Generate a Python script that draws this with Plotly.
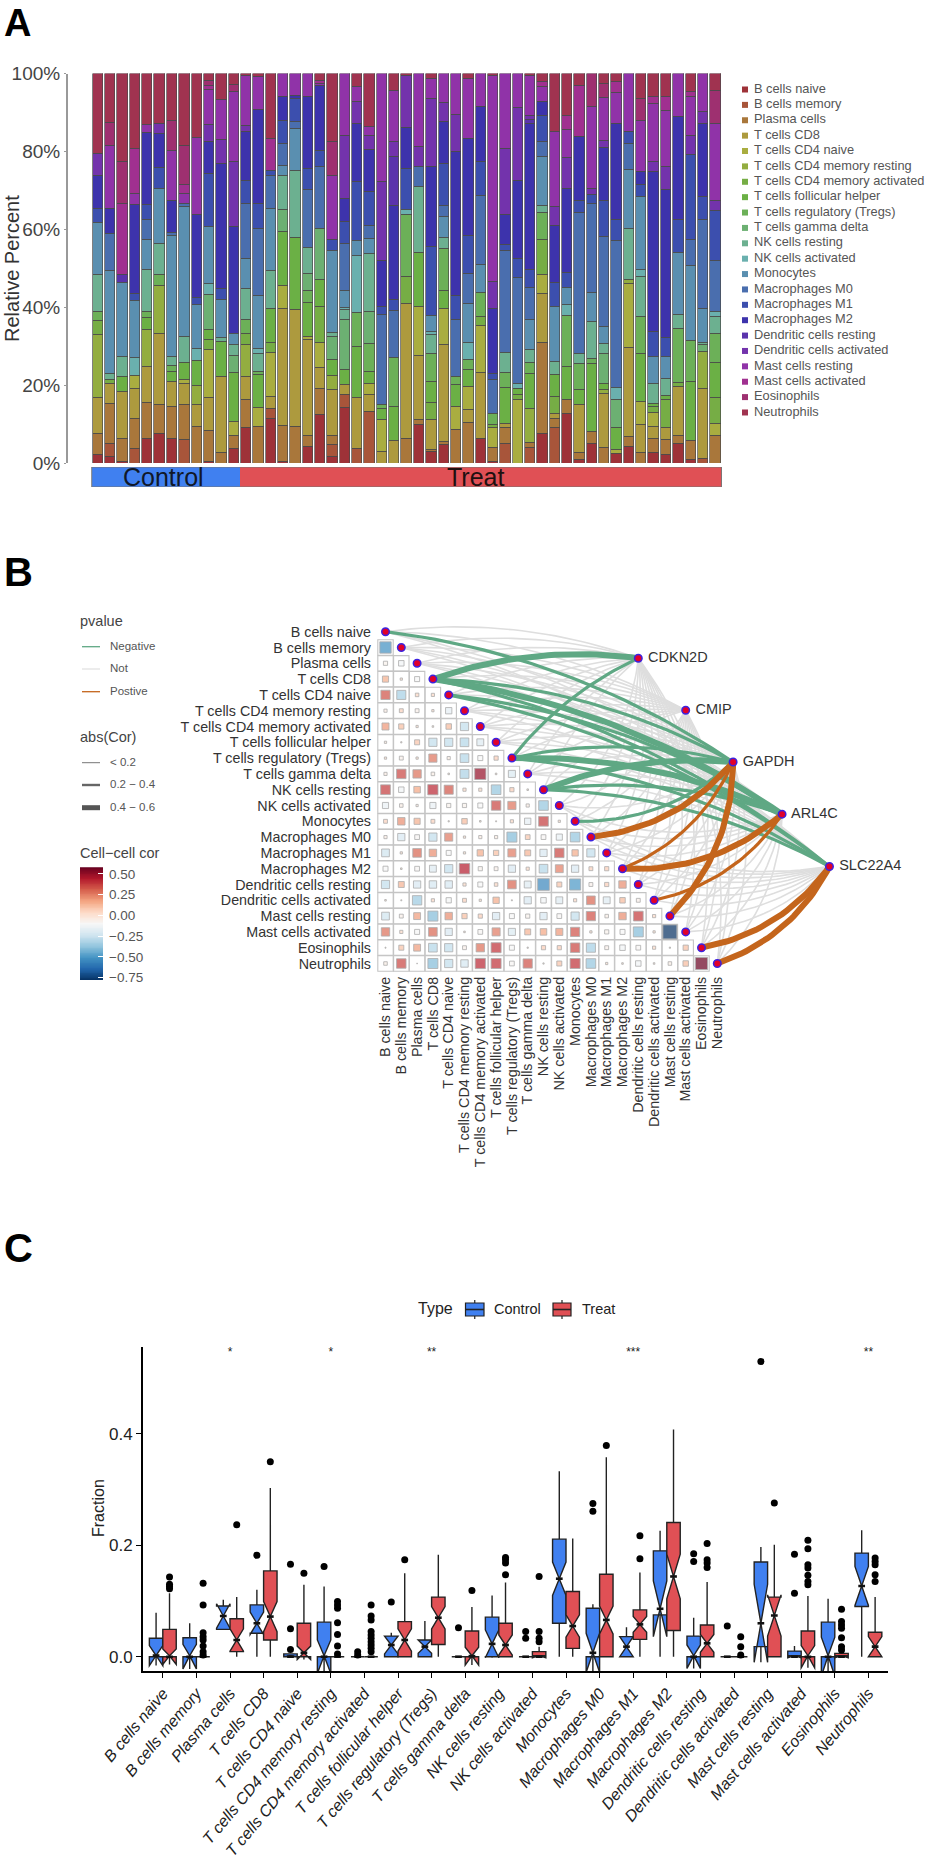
import math
import plotly.graph_objects as go

W, H = 931, 1860

cell_types = ["B cells naive", "B cells memory", "Plasma cells", "T cells CD8", "T cells CD4 naive",
              "T cells CD4 memory resting", "T cells CD4 memory activated", "T cells follicular helper",
              "T cells regulatory (Tregs)", "T cells gamma delta", "NK cells resting", "NK cells activated",
              "Monocytes", "Macrophages M0", "Macrophages M1", "Macrophages M2", "Dendritic cells resting",
              "Dendritic cells activated", "Mast cells resting", "Mast cells activated", "Eosinophils", "Neutrophils"]
stack_colors = ["#9e3238", "#a8553a", "#a9773b", "#ad9a3e", "#a9ad40", "#93ad40", "#76ad45", "#6bb045",
                "#6cb058", "#6cb072", "#6cb090", "#6ab0ae", "#5a8fb0", "#4a6eae", "#3c4fae", "#3d33ac",
                "#5a33ac", "#7333ac", "#9033a8", "#a03090", "#9e3070", "#a03350"]

# Panel A: each sample is (cell type index, cumulative percent at the top of that layer)
sample_01 = [(0,2.1),(2,7.7),(3,16.7),(5,32.9),(6,36.6),(8,38.9),(10,48.3),(12,61.8),(14,65.4),(15,73.9),(17,79.5),(21,100)]
sample_02 = [(0,1.7),(1,5.1),(2,15.2),(3,20.5),(6,21.5),(10,23.1),(12,49.3),(13,58.8),(15,65.4),(18,81.6),(20,87.4),(21,100)]
sample_03 = [(0,0.4),(2,6.4),(3,18.4),(7,22.2),(10,27.4),(12,46.4),(16,48.3),(19,66.7),(20,77.4),(21,100)]
sample_04 = [(1,3.7),(2,11.3),(3,19.2),(4,22.4),(11,27.1),(12,41.7),(14,43.6),(15,66.4),(18,69.2),(19,80.8),(21,100)]
sample_05 = [(0,6.4),(2,15.6),(3,24.8),(5,34.4),(7,37.4),(8,38.9),(10,49.7),(12,57.4),(13,62.4),(14,66.4),(15,84.8),(18,87.0),(21,100)]
sample_06 = [(0,7.7),(2,15.1),(3,33.2),(5,45.6),(8,48.5),(10,56.4),(12,70.5),(14,75.9),(15,84.6),(17,87.2),(21,100)]
sample_07 = [(0,6.2),(2,14.5),(3,20.9),(7,23.5),(8,25.0),(10,27.4),(12,58.4),(13,59.2),(15,67.4),(18,80.2),(20,87.9),(21,100)]
sample_08 = [(1,6.0),(2,15.0),(3,20.5),(4,21.5),(7,25.8),(10,32.6),(12,65.8),(13,66.7),(18,69.2),(19,71.4),(20,81.6),(21,100)]
sample_09 = [(2,9.4),(3,15.0),(5,19.9),(7,26.2),(11,29.5),(12,40.6),(14,42.5),(15,63.7),(18,83.5),(21,100)]
sample_10 = [(0,0.4),(2,8.4),(3,16.9),(4,29.1),(6,31.8),(7,34.4),(9,43.2),(11,46.2),(12,60.7),(14,74.2),(15,82.6),(17,86.8),(18,96.0),(19,96.8),(20,98.3),(21,100)]
sample_11 = [(2,2.7),(3,22.2),(7,31.2),(10,32.1),(12,42.1),(14,44.9),(15,76.9),(17,83.1),(18,93.3),(21,100)]
sample_12 = [(0,3.7),(2,7.0),(4,10.7),(7,23.2),(9,27.5),(10,30.3),(12,33.3),(15,60.7),(17,77.4),(18,95.5),(20,97.3),(21,100)]
sample_13 = [(0,9.0),(2,16.2),(3,22.2),(5,30.3),(6,33.2),(8,36.8),(10,44.9),(12,52.4),(13,66.5),(14,72.5),(15,85.0),(17,86.6),(18,99.6),(21,100)]
sample_14 = [(2,9.4),(4,14.3),(7,22.6),(8,23.5),(10,28.2),(11,29.5),(12,42.9),(13,60.3),(14,66.7),(15,90.8),(18,99.3),(21,100)]
sample_15 = [(0,11.3),(1,14.1),(3,17.1),(4,28.4),(6,31.0),(7,39.7),(10,49.4),(12,65.4),(13,73.8),(14,75.0),(19,83.3),(21,100)]
sample_16 = [(0,0.4),(2,9.7),(3,39.7),(4,45.5),(7,59.4),(9,65.0),(10,73.9),(12,76.5),(13,82.1),(14,88.0),(15,94.0),(18,100)]
sample_17 = [(2,9.4),(3,39.5),(7,57.9),(10,75.2),(12,85.9),(13,87.6),(14,93.6),(15,94.4),(18,100)]
sample_18 = [(0,4.3),(2,7.0),(3,31.6),(4,32.6),(7,41.3),(8,44.2),(9,48.7),(10,55.4),(13,70.3),(14,75.6),(15,94.0),(18,100)]
sample_19 = [(0,12.4),(2,19.2),(3,24.4),(4,30.9),(6,40.2),(7,47.0),(9,60.3),(13,76.1),(14,80.2),(15,96.8),(18,97.5),(19,98.3),(21,100)]
sample_20 = [(0,1.7),(1,4.7),(2,7.0),(3,18.8),(5,22.4),(7,26.5),(9,32.5),(10,33.5),(12,54.5),(14,57.3),(18,73.9),(20,82.5),(21,100)]
sample_21 = [(0,14.3),(1,17.5),(3,20.1),(7,23.9),(9,36.8),(10,39.3),(11,40.0),(12,44.4),(13,56.4),(14,62.0),(15,68.0),(17,84.0),(18,100)]
sample_22 = [(1,3.8),(3,16.9),(7,29.9),(8,38.7),(11,53.2),(12,57.0),(14,72.4),(15,87.2),(17,92.7),(18,96.6),(21,100)]
sample_23 = [(1,13.2),(3,17.5),(4,20.5),(7,23.5),(8,30.8),(9,38.9),(10,53.8),(12,57.7),(13,61.1),(14,69.7),(15,80.5),(17,84.2),(18,86.3),(21,100)]
sample_24 = [(3,3.0),(4,11.1),(7,14.1),(8,15.0),(13,38.0),(14,40.2),(15,52.1),(17,72.4),(18,100)]
sample_25 = [(3,5.7),(7,14.5),(8,27.1),(13,39.1),(14,41.9),(15,66.0),(16,78.8),(17,82.6),(18,95.6),(21,100)]
sample_26 = [(2,6.4),(3,41.0),(6,48.0),(8,63.9),(11,65.0),(14,75.6),(15,86.1),(17,99.6),(21,100)]
sample_27 = [(0,10.0),(2,11.1),(3,27.5),(4,40.3),(7,54.0),(10,71.1),(13,76.1),(17,81.2),(18,100)]
sample_28 = [(0,3.0),(2,3.4),(3,11.1),(6,15.6),(7,20.9),(8,28.2),(10,32.9),(11,33.8),(12,37.8),(14,55.6),(15,76.2),(17,93.6),(18,98.7),(21,100)]
sample_29 = [(0,4.7),(2,5.6),(3,30.3),(4,39.7),(7,44.4),(8,55.1),(10,57.9),(12,63.4),(13,66.2),(14,76.9),(15,87.6),(17,92.5),(18,100)]
sample_30 = [(2,8.7),(4,14.5),(7,20.1),(8,22.2),(13,36.8),(14,42.9),(15,79.9),(17,89.6),(18,100)]
sample_31 = [(2,10.5),(3,13.8),(4,19.7),(7,23.9),(8,26.5),(11,31.0),(12,41.0),(13,48.7),(14,58.5),(15,83.3),(18,98.7),(21,100)]
sample_32 = [(0,6.2),(3,23.2),(4,35.3),(6,37.6),(8,43.8),(12,50.9),(13,68.8),(14,77.4),(15,91.6),(18,100)]
sample_33 = [(0,0.4),(2,4.1),(4,9.0),(6,9.9),(8,12.6),(13,21.4),(14,23.1),(15,39.7),(17,46.6),(18,99.6),(21,100)]
sample_34 = [(1,5.0),(2,9.0),(3,10.1),(7,19.5),(8,23.2),(10,28.4),(13,54.5),(14,56.0),(15,63.7),(17,80.8),(18,100)]
sample_35 = [(4,16.4),(6,17.5),(7,19.2),(11,20.3),(13,47.6),(14,52.6),(15,72.6),(17,91.2),(18,100)]
sample_36 = [(1,4.1),(2,5.3),(5,14.1),(7,23.1),(8,25.8),(10,29.2),(12,36.8),(13,45.1),(14,49.7),(15,87.2),(16,88.3),(17,89.1),(18,99.6),(21,100)]
sample_37 = [(0,7.5),(2,30.9),(3,43.6),(4,48.5),(6,57.4),(8,64.3),(10,66.2),(12,78.6),(13,82.5),(14,89.1),(15,92.7),(18,96.6),(19,97.9),(21,100)]
sample_38 = [(1,9.0),(2,11.5),(3,12.8),(6,17.1),(7,22.6),(10,26.1),(12,40.3),(14,46.3),(15,61.1),(17,65.8),(18,85.0),(21,100)]
sample_39 = [(0,12.8),(2,16.2),(7,24.8),(8,37.8),(11,40.8),(12,45.1),(14,48.9),(15,70.5),(17,78.4),(18,85.5),(19,89.1),(21,100)]
sample_40 = [(0,0.9),(2,2.6),(3,15.0),(7,18.8),(8,25.6),(10,28.2),(13,64.3),(14,67.4),(15,83.9),(19,96.8),(21,100)]
sample_41 = [(0,5.0),(2,8.1),(7,25.5),(8,26.9),(10,36.3),(12,43.8),(13,66.7),(14,69.0),(17,70.5),(18,91.5),(20,100)]
sample_42 = [(2,4.1),(3,17.8),(5,18.8),(7,20.3),(9,28.2),(10,30.8),(12,35.0),(13,58.1),(14,67.3),(15,81.0),(17,82.9),(18,93.8),(20,97.4),(21,100)]
sample_43 = [(0,2.4),(4,3.4),(7,9.0),(9,16.4),(11,19.4),(13,57.1),(14,62.4),(15,87.2),(18,95.1),(19,97.9),(21,100)]
sample_44 = [(0,4.3),(2,6.7),(3,29.7),(4,46.0),(5,47.0),(10,60.1),(12,75.4),(13,82.1),(14,85.2),(18,100)]
sample_45 = [(2,2.7),(3,9.8),(4,15.8),(7,28.0),(8,37.6),(10,47.9),(11,49.7),(12,68.5),(14,71.6),(15,74.8),(18,88.0),(20,93.6),(21,100)]
sample_46 = [(0,2.6),(2,6.2),(3,9.4),(4,13.0),(6,14.5),(7,15.4),(10,20.5),(12,27.4),(14,33.8),(15,74.8),(17,77.4),(18,92.3),(19,94.0),(21,100)]
sample_47 = [(0,2.1),(2,6.0),(3,9.1),(6,16.4),(7,17.3),(10,21.8),(12,27.4),(14,32.3),(15,70.1),(17,76.1),(18,90.6),(19,94.0),(21,100)]
sample_48 = [(0,5.0),(2,7.1),(3,19.7),(6,20.7),(8,34.6),(10,38.0),(12,54.0),(14,62.4),(15,88.9),(18,100)]
sample_49 = [(0,0.9),(2,5.8),(7,20.9),(8,31.4),(12,50.6),(13,57.4),(14,79.2),(17,84.2),(18,94.0),(19,95.3),(21,100)]
sample_50 = [(1,1.1),(3,19.2),(5,28.6),(9,30.3),(10,30.9),(12,39.7),(13,62.4),(14,68.4),(15,87.2),(17,90.2),(18,100)]
sample_51 = [(2,7.0),(4,10.1),(6,16.7),(7,25.8),(8,33.2),(10,37.6),(11,38.9),(13,52.1),(14,64.8),(17,67.3),(18,87.2),(20,95.7),(21,100)]
samples = [sample_01, sample_02, sample_03, sample_04, sample_05, sample_06, sample_07, sample_08, sample_09, sample_10,
           sample_11, sample_12, sample_13, sample_14, sample_15, sample_16, sample_17, sample_18, sample_19, sample_20,
           sample_21, sample_22, sample_23, sample_24, sample_25, sample_26, sample_27, sample_28, sample_29, sample_30,
           sample_31, sample_32, sample_33, sample_34, sample_35, sample_36, sample_37, sample_38, sample_39, sample_40,
           sample_41, sample_42, sample_43, sample_44, sample_45, sample_46, sample_47, sample_48, sample_49, sample_50, sample_51]
sample_groups = ["Control"] * 12 + ["Treat"] * 39

# Panel B: lower-triangle cell-cell correlations, row by row
cor_01 = [-0.52]
cor_02 = [-0.07, -0.12]
cor_03 = [0.15, 0.02, -0.10]
cor_04 = [0.34, -0.33, 0.05, 0.04]
cor_05 = [-0.04, 0.06, -0.06, 0.02, -0.16]
cor_06 = [0.20, 0.11, 0.02, 0.01, 0.12, -0.27]
cor_07 = [-0.02, 0.006, 0.10, -0.27, -0.27, -0.30, -0.19]
cor_08 = [0.02, -0.06, 0.02, 0.27, -0.04, -0.30, -0.10, 0.07]
cor_09 = [-0.04, 0.36, 0.28, -0.05, 0.01, -0.32, 0.50, 0.01, -0.20]
cor_10 = [0.38, -0.12, 0.17, 0.42, 0.33, 0.04, 0.04, -0.37, 0.07, 0.01]
cor_11 = [-0.15, -0.05, -0.02, -0.15, -0.07, -0.07, -0.10, 0.36, 0.27, -0.04, -0.37]
cor_12 = [0.06, 0.22, 0.15, 0.06, 0.006, 0.12, 0.01, 0.004, 0.04, -0.16, 0.38, 0.02]
cor_13 = [-0.04, -0.21, -0.09, -0.27, 0.26, 0.02, -0.04, -0.04, -0.40, 0.09, -0.09, -0.15, -0.37]
cor_14 = [-0.24, 0.02, 0.30, 0.22, -0.10, 0.02, 0.16, 0.11, 0.26, 0.14, -0.21, 0.36, 0.16, -0.27]
cor_15 = [-0.10, 0.01, -0.09, -0.19, -0.27, 0.44, -0.07, -0.06, -0.21, 0.04, -0.30, 0.25, -0.21, 0.06, 0.07]
cor_16 = [-0.27, 0.14, -0.21, -0.22, -0.22, 0.04, -0.10, 0.05, 0.30, -0.19, -0.55, 0.10, -0.50, -0.06, 0.07, 0.22]
cor_17 = [0.01, 0.004, -0.35, 0.04, -0.11, 0.06, 0.02, 0.16, 0.004, -0.21, -0.12, -0.19, 0.04, 0.30, -0.19, 0.12, -0.06]
cor_18 = [-0.24, -0.06, 0.19, -0.40, 0.22, 0.11, 0.07, -0.21, -0.10, -0.07, -0.21, -0.09, -0.27, 0.34, -0.05, 0.22, 0.38, 0.04]
cor_19 = [0.28, 0.04, -0.10, 0.30, -0.21, 0.01, -0.09, 0.26, -0.20, 0.14, 0.17, 0.20, 0.34, 0.02, -0.07, -0.10, -0.40, 0.02, -0.78]
cor_20 = [0.004, 0.10, 0.19, -0.30, -0.27, -0.06, 0.28, 0.40, -0.10, 0.006, 0.07, 0.07, 0.36, -0.33, -0.06, -0.12, -0.09, 0.04, 0.006, 0.11]
cor_21 = [-0.05, 0.36, 0.002, -0.40, -0.27, -0.22, 0.42, 0.40, -0.09, 0.34, 0.006, 0.10, 0.40, -0.37, 0.02, 0.01, -0.12, 0.01, -0.05, 0.12, 0.58]
cor_rows = [cor_01, cor_02, cor_03, cor_04, cor_05, cor_06, cor_07, cor_08, cor_09, cor_10, cor_11,
            cor_12, cor_13, cor_14, cor_15, cor_16, cor_17, cor_18, cor_19, cor_20, cor_21]

genes = ["CDKN2D", "CMIP", "GAPDH", "ARL4C", "SLC22A4"]
gene_col = [16.0, 19.0, 22.0, 25.1, 28.1]
gene_row = [1.68, 4.97, 8.25, 11.55, 14.86]
negative_links = [("B cells naive", "GAPDH", 0.3), ("T cells CD8", "CDKN2D", 0.5), ("T cells CD8", "GAPDH", 0.3),
                  ("T cells CD8", "ARL4C", 0.45), ("T cells CD8", "SLC22A4", 0.3), ("T cells CD4 naive", "ARL4C", 0.3),
                  ("T cells CD4 naive", "SLC22A4", 0.35), ("T cells regulatory (Tregs)", "CDKN2D", 0.3),
                  ("T cells regulatory (Tregs)", "GAPDH", 0.3), ("T cells regulatory (Tregs)", "ARL4C", 0.45),
                  ("T cells regulatory (Tregs)", "SLC22A4", 0.35), ("NK cells resting", "GAPDH", 0.5),
                  ("NK cells resting", "ARL4C", 0.3), ("NK cells resting", "SLC22A4", 0.3), ("Monocytes", "GAPDH", 0.3)]
positive_links = [("Macrophages M0", "GAPDH", 0.5), ("Macrophages M2", "GAPDH", 0.3), ("Macrophages M2", "ARL4C", 0.5),
                  ("Dendritic cells activated", "ARL4C", 0.3), ("Mast cells resting", "GAPDH", 0.5),
                  ("Eosinophils", "SLC22A4", 0.5), ("Neutrophils", "SLC22A4", 0.5)]

# Panel C: box statistics for each cell type
c_q1 = [0, 0, .049, .042, 0, 0, 0, 0, 0, 0, 0, 0, .06, 0, 0, .075, 0, 0, .018, 0, 0, .09]
c_med = [.002, 0, .073, .06, 0, 0, 0, .021, .018, 0, .023, 0, .14, .007, .018, .086, 0, 0, .06, 0, 0, .127]
c_q3 = [.033, .034, .091, .093, .005, .062, 0, .037, .03, 0, .071, 0, .211, .087, .036, .19, .037, 0, .17, .01, .062, .186]
c_lo = [0, 0, .049, 0, 0, 0, 0, 0, 0, 0, 0, 0, 0, 0, 0, 0, 0, 0, 0, 0, 0, 0]
c_hi = [.079, .06, .102, .12, .005, .126, 0, .043, .064, 0, .11, 0, .333, .094, .053, .226, .07, 0, .197, .019, .104, .227]
c_notch = [.018, .022, .022, .02, 0, .03, 0, .016, .012, 0, .025, 0, .03, .035, .018, .05, .021, 0, .07, .002, .035, .035]
t_q1 = [0, 0, .009, .03, 0, 0, 0, 0, .022, 0, 0, 0, .015, 0, .031, .047, 0, 0, 0, 0, 0, 0]
t_med = [0, 0, .03, .072, .007, 0, 0, .03, .07, .001, .021, 0, .055, .066, .058, .144, .024, 0, .074, 0, 0, .018]
t_q3 = [.049, 0, .068, .154, .06, 0, 0, .063, .107, .046, .06, .009, .117, .148, .084, .241, .057, 0, .107, .046, .006, .044]
t_lo = [0, 0, 0, 0, 0, 0, 0, 0, 0, 0, 0, 0, 0, 0, 0, 0, 0, 0, 0, 0, 0, 0]
t_hi = [.114, 0, .107, .303, .129, 0, 0, .15, .183, .089, .133, .018, .212, .358, .151, .408, .134, 0, .201, .109, .006, .107]
t_notch = [.014, 0, .02, .027, .012, 0, 0, .02, .02, .016, .018, .002, .02, .025, .014, .04, .016, 0, .037, .02, .002, .018]
control_outliers = {3: [.182], 4: [.166, .05, .013], 5: [.162], 6: [.009, .003], 7: [.098], 9: [.052],
                    11: [.045, .033], 13: [.275, .261], 16: [.185, .171], 17: [.055], 18: [.53], 19: [.184, .114]}
treat_outliers = {0: [.143, .13, .126, .122], 1: [.132, .093, .043, .036, .03, .019, .009, .003], 2: [.237], 3: [.35],
                  4: [.15], 5: [.099, .093, .087, .061, .04, .019, .005],
                  6: [.093, .073, .066, .045, .039, .033, .027, .021, .015, .009], 7: [.174], 9: [.119],
                  10: [.178, .174, .168, .147], 11: [.144, .045, .033, .027], 13: [.379], 14: [.217, .176],
                  16: [.203, .174, .168, .16], 17: [.036, .018, .003], 18: [.276],
                  19: [.209, .194, .165, .159, .146, .135, .129], 20: [.085, .063, .057, .051, .034, .018, .012],
                  21: [.177, .171, .165, .147, .135]}
significance = {2: "*", 5: "*", 8: "**", 14: "***", 21: "**"}

FONT = "Liberation Sans"
CONTROL = "#4080f0"
TREAT = "#e05055"


def dx(a, b):
    return [a / W, b / W]


def dy(top, bottom):
    return [1 - bottom / H, 1 - top / H]


fig = go.Figure()

# ---- Panel A ----
n_samples = len(samples)
for k, name in enumerate(cell_types):
    vals = [None] * n_samples
    for s, layers in enumerate(samples):
        prev = 0
        for idx, top in layers:
            if idx == k:
                vals[s] = (vals[s] or 0) + (top - prev)
            prev = top
    fig.add_trace(go.Bar(x=list(range(1, n_samples + 1)), y=vals, name=name, width=0.84,
                         marker=dict(color=stack_colors[k], line=dict(color="#4a4a4a", width=0.7)),
                         xaxis="x", yaxis="y", showlegend=False))
fig.add_trace(go.Bar(x=list(range(1, n_samples + 1)), y=[1] * n_samples, width=1.0,
                     marker=dict(color=[CONTROL if g == "Control" else TREAT for g in sample_groups], line=dict(width=0)),
                     xaxis="x", yaxis="y2", showlegend=False, name="Group"))

# ---- Panel B ----
unit = 15.8
link_x, link_y = [], []
row_of = {c: i for i, c in enumerate(cell_types)}


def curve(cell, g):
    r = row_of[cell]
    x0, y0 = r, r
    x1, y1 = gene_col[g], gene_row[g]
    ddx, ddy = x1 - x0, y1 - y0
    sign = 1 if r <= 10 else -1
    k = 0.12 if r <= 10 else 0.2
    cx = (x0 + x1) / 2 + sign * ddy * k
    cy = (y0 + y1) / 2 - sign * ddx * k
    xs, ys = [], []
    for i in range(31):
        t = i / 30
        xs.append((1 - t) ** 2 * x0 + 2 * t * (1 - t) * cx + t ** 2 * x1)
        ys.append((1 - t) ** 2 * y0 + 2 * t * (1 - t) * cy + t ** 2 * y1)
    return xs, ys


coloured = {(c, g) for c, g, _ in negative_links + positive_links}
for cell in cell_types:
    for g, gene in enumerate(genes):
        if (cell, gene) not in coloured:
            xs, ys = curve(cell, g)
            link_x += xs + [None]
            link_y += ys + [None]
fig.add_trace(go.Scatter(x=link_x, y=link_y, mode="lines", line=dict(color="#dedede", width=1.6),
                         xaxis="x3", yaxis="y3", showlegend=False, name="Not"))


def link_width(v):
    return 1.6 if v < 0.2 else (3.2 if v < 0.4 else 6.0)


for links, col in ((negative_links, "#5fa884"), (positive_links, "#c4651c")):
    for cell, gene, v in links:
        xs, ys = curve(cell, genes.index(gene))
        fig.add_trace(go.Scatter(x=xs, y=ys, mode="lines", line=dict(color=col, width=link_width(v)),
                                 xaxis="x3", yaxis="y3", showlegend=False, name=gene))

cell_x, cell_y, cell_v = [], [], []
for i, row in enumerate(cor_rows, start=1):
    for j, v in enumerate(row):
        cell_x.append(j)
        cell_y.append(i)
        cell_v.append(v)
fig.add_trace(go.Scatter(x=cell_x, y=cell_y, mode="markers", xaxis="x3", yaxis="y3", showlegend=False,
                         marker=dict(symbol="square", size=unit - 0.4, color="white", line=dict(color="#c4c4c4", width=1.1))))
rdbu = ["#053061", "#2166ac", "#4393c3", "#92c5de", "#d1e5f0", "#f7f7f7", "#fddbc7", "#f4a582", "#d6604d", "#b2182b", "#67001f"]
rdbu_scale = [[i / 10, c] for i, c in enumerate(rdbu)]
fig.add_trace(go.Scatter(x=cell_x, y=cell_y, mode="markers", xaxis="x3", yaxis="y3", showlegend=False,
                         marker=dict(symbol="square", size=[unit * math.sqrt(abs(v)) for v in cell_v], color=cell_v,
                                     cmin=-0.78, cmax=0.58, colorscale=rdbu_scale, showscale=False,
                                     line=dict(color="#8c8c8c", width=0.8))))
node_marker = dict(symbol="circle", size=7.5, color="#e0002a", line=dict(color="#3b22e0", width=1.5))
fig.add_trace(go.Scatter(x=list(range(22)), y=list(range(22)), mode="markers", marker=node_marker,
                         xaxis="x3", yaxis="y3", showlegend=False, name="Cells"))
fig.add_trace(go.Scatter(x=gene_col, y=gene_row, mode="markers+text", text=[" " + g for g in genes], textposition="middle right",
                         textfont=dict(family=FONT, size=14.5, color="#333333"), marker=node_marker,
                         xaxis="x3", yaxis="y3", showlegend=False, name="Genes"))

# colour key of panel B, a one-column heatmap on its own axis
ramp_levels = [-0.78 + 0.01 * i for i in range(137)]
fig.add_trace(go.Heatmap(z=[[v] for v in ramp_levels], y=ramp_levels, x=[0], zmin=-0.78, zmax=0.58, colorscale=rdbu_scale,
                         showscale=False, xaxis="x6", yaxis="y6", name="Cell-cell cor"))

# ---- Panel C ----
n_cells = len(cell_types)
for name, col, off, q1, med, q3, lo, hi, notch, outl in (
        ("Control", CONTROL, -0.2, c_q1, c_med, c_q3, c_lo, c_hi, c_notch, control_outliers),
        ("Treat", TREAT, 0.2, t_q1, t_med, t_q3, t_lo, t_hi, t_notch, treat_outliers)):
    xs = [i + off for i in range(n_cells)]
    fig.add_trace(go.Box(x=xs, q1=q1, median=med, q3=q3, lowerfence=lo, upperfence=hi, notchspan=notch, notched=True,
                         notchwidth=0.5, width=0.4, whiskerwidth=0, boxpoints=False, name=name,
                         fillcolor=col, line=dict(color="#222222", width=1.4),
                         xaxis="x4", yaxis="y4", showlegend=False))
    mx, my = [], []
    for i in range(n_cells):
        mx += [xs[i] - 0.1, xs[i] + 0.1, None]
        my += [med[i], med[i], None]
    fig.add_trace(go.Scatter(x=mx, y=my, mode="lines", line=dict(color="#111111", width=2.6),
                             xaxis="x4", yaxis="y4", showlegend=False, name=name + " median"))
    ox, oy = [], []
    for i, vals in outl.items():
        ox += [i + off] * len(vals)
        oy += vals
    fig.add_trace(go.Scatter(x=ox, y=oy, mode="markers", marker=dict(color="black", size=7),
                             xaxis="x4", yaxis="y4", showlegend=False, name=name + " outliers"))
fig.add_trace(go.Scatter(x=list(significance), y=[0.546] * len(significance), mode="text",
                         text=list(significance.values()), textfont=dict(family=FONT, size=12, color="#222222"),
                         xaxis="x4", yaxis="y4", showlegend=False, name="Significance"))

# ---- Overlay in page units: hand-made legends ----
leg_y = [89.5 + 15.38 * i for i in range(22)]
fig.add_trace(go.Scatter(x=[745] * 22, y=leg_y, mode="markers", marker=dict(symbol="square", size=6, color=stack_colors),
                         xaxis="x5", yaxis="y5", showlegend=False, name="legend A"))
fig.add_trace(go.Scatter(x=[754] * 22, y=leg_y, mode="text", text=cell_types, textposition="middle right",
                         textfont=dict(family=FONT, size=12.8, color="#555555"),
                         xaxis="x5", yaxis="y5", showlegend=False, name="legend A text"))
for y0, col, w in ((646.7, "#5fa884", 1.3), (669, "#e2e2e2", 1.3), (691.7, "#c4651c", 1.3),
                   (762.7, "#777777", 1), (785, "#666666", 2.4), (807.7, "#555555", 5)):
    fig.add_trace(go.Scatter(x=[82, 100], y=[y0, y0], mode="lines", line=dict(color=col, width=w),
                             xaxis="x5", yaxis="y5", showlegend=False))
fig.add_trace(go.Scatter(x=[110] * 6, y=[646.7, 669, 691.7, 762.7, 785, 807.7], mode="text",
                         text=["Negative", "Not", "Postive", "< 0.2", "0.2 \u2212 0.4", "0.4 \u2212 0.6"],
                         textposition="middle right", textfont=dict(family=FONT, size=11.5, color="#555555"),
                         xaxis="x5", yaxis="y5", showlegend=False))
fig.add_trace(go.Scatter(x=[80, 80, 80], y=[622, 738, 854], mode="text", text=["pvalue", "abs(Cor)", "Cell\u2212cell cor"],
                         textposition="middle right", textfont=dict(family=FONT, size=14.5, color="#444444"),
                         xaxis="x5", yaxis="y5", showlegend=False))
fig.add_trace(go.Scatter(x=[418], y=[1310], mode="text", text=["Type"],
                         textposition="middle right", textfont=dict(family=FONT, size=16, color="#222222"),
                         xaxis="x5", yaxis="y5", showlegend=False))
fig.add_trace(go.Scatter(x=[494, 582], y=[1310, 1310], mode="text", text=["Control", "Treat"],
                         textposition="middle right", textfont=dict(family=FONT, size=14.5, color="#222222"),
                         xaxis="x5", yaxis="y5", showlegend=False))

shapes = []
for x0, x1, col in ((465.5, 484, CONTROL), (553, 571, TREAT)):
    xm = (x0 + x1) / 2
    shapes.append(dict(type="line", xref="x5", yref="y5", x0=xm, x1=xm, y0=1300, y1=1319, line=dict(color="#222222", width=1.2)))
    shapes.append(dict(type="rect", xref="x5", yref="y5", x0=x0, x1=x1, y0=1303, y1=1316, fillcolor=col, line=dict(color="#222222", width=1.2)))
    shapes.append(dict(type="line", xref="x5", yref="y5", x0=x0, x1=x1, y0=1309.5, y1=1309.5, line=dict(color="#222222", width=1.6)))
shapes.append(dict(type="rect", xref="x", yref="y2", x0=0.5, x1=n_samples + 0.5, y0=0, y1=1, line=dict(color="#777777", width=1)))

ann = [dict(text="<b>A</b>", x=2 / W, y=1, xref="paper", yref="paper", xanchor="left", yanchor="top",
            showarrow=False, font=dict(family=FONT, size=38, color="black"))]
for label, y0 in (("B", 572), ("C", 1248)):
    ann.append(dict(text="<b>%s</b>" % label, x=2 / W, y=1 - y0 / H, xref="paper", yref="paper", xanchor="left", yanchor="middle",
                    showarrow=False, font=dict(family=FONT, size=40, color="black")))
ann.append(dict(text="Relative Percent", x=12 / W, y=1 - 269 / H, xref="paper", yref="paper", xanchor="center", yanchor="middle",
                textangle=-90, showarrow=False, font=dict(family=FONT, size=20, color="#333333")))
ann.append(dict(text="Fraction", x=98 / W, y=1 - 1508 / H, xref="paper", yref="paper", xanchor="center", yanchor="middle",
                textangle=-90, showarrow=False, font=dict(family=FONT, size=16, color="#222222")))
ann.append(dict(text="Control", x=6.3, y=0.5, xref="x", yref="y2", showarrow=False, font=dict(family=FONT, size=25, color="#101828")))
ann.append(dict(text="Treat", x=31.6, y=0.5, xref="x", yref="y2", showarrow=False, font=dict(family=FONT, size=25, color="#201010")))

a_pitch = 12.35
a_left = 1 - (97.9 - 68) / a_pitch
a_right = n_samples + (722 - 715.4) / a_pitch
b_left, b_right, b_top, b_bottom = 375, 930, 620, 973
c_pitch = 33.6

fig.update_layout(
    template="none",
    width=W, height=H, margin=dict(l=0, r=0, t=0, b=0, pad=0, autoexpand=False), paper_bgcolor="white", plot_bgcolor="rgba(0,0,0,0)",
    barmode="stack", bargap=0, showlegend=False, shapes=shapes, annotations=ann,
    font=dict(family=FONT),
    xaxis=dict(domain=dx(68, 722), range=[a_left, a_right], visible=False, anchor="y", automargin=False),
    yaxis=dict(domain=dy(73.5, 463), range=[0, 100], tickvals=[0, 20, 40, 60, 80, 100],
               ticktext=["0%", "20%", "40%", "60%", "80%", "100%"], automargin=False,
               tickfont=dict(family=FONT, size=19, color="#444444"), showline=True, linecolor="#999999", linewidth=2,
               ticks="outside", ticklen=2, tickcolor="#999999", showgrid=False, zeroline=False, anchor="x"),
    yaxis2=dict(domain=dy(467, 487), range=[0, 1], visible=False, anchor="x", automargin=False),
    xaxis3=dict(domain=dx(b_left, b_right), range=[(b_left - 385.5) / unit, (b_right - 385.5) / unit], anchor="y3",
                tickvals=list(range(22)), ticktext=cell_types, tickangle=-90, showline=False, showgrid=False, zeroline=False,
                ticks="", tickfont=dict(family=FONT, size=14.3, color="#333333"), automargin=False),
    yaxis3=dict(domain=dy(b_top, b_bottom), range=[(b_bottom - 631.7) / unit, (b_top - 631.7) / unit], anchor="x3",
                tickvals=list(range(22)), ticktext=cell_types, showline=False, showgrid=False, zeroline=False, ticks="",
                tickfont=dict(family=FONT, size=14.3, color="#333333"), ticklabelstandoff=3, automargin=False),
    xaxis4=dict(domain=dx(142.8, 887.8), range=[-(162.8 - 142.8) / c_pitch, 21 + (887.8 - 868.4) / c_pitch], anchor="y4",
                tickvals=list(range(n_cells)), ticktext=cell_types, tickangle=-50, showline=True, linecolor="black", linewidth=1.5,
                ticks="outside", ticklen=5, tickcolor="black", showgrid=False, zeroline=False, automargin=False,
                tickfont=dict(family=FONT, size=16, style="italic", color="#222222")),
    yaxis4=dict(domain=dy(1347, 1671), range=[-0.0257, 0.556], anchor="x4", tickvals=[0, 0.2, 0.4], ticktext=["0.0", "0.2", "0.4"],
                showline=True, linecolor="black", linewidth=1.5, ticks="outside", ticklen=5, tickcolor="black", automargin=False,
                showgrid=False, zeroline=False, tickfont=dict(family=FONT, size=17, color="#222222")),
    xaxis5=dict(domain=[0, 1], range=[0, W], visible=False, anchor="y5", automargin=False),
    yaxis5=dict(domain=[0, 1], range=[H, 0], visible=False, anchor="x5", automargin=False),
    xaxis6=dict(domain=dx(80, 103), visible=False, anchor="y6", automargin=False),
    yaxis6=dict(domain=dy(867.3, 980), range=[-0.78, 0.58], anchor="x6", side="right", automargin=False,
                tickvals=[0.5, 0.25, 0, -0.25, -0.5, -0.75],
                ticktext=["0.50", "0.25", "0.00", "\u22120.25", "\u22120.50", "\u22120.75"],
                ticks="inside", ticklen=5, tickcolor="white", showline=False, showgrid=False, zeroline=False, ticklabelstandoff=5,
                tickfont=dict(family=FONT, size=13.5, color="#555555")),
)

fig.write_html("out.html", post_script="document.body.style.margin='0';", config={"displayModeBar": False})
